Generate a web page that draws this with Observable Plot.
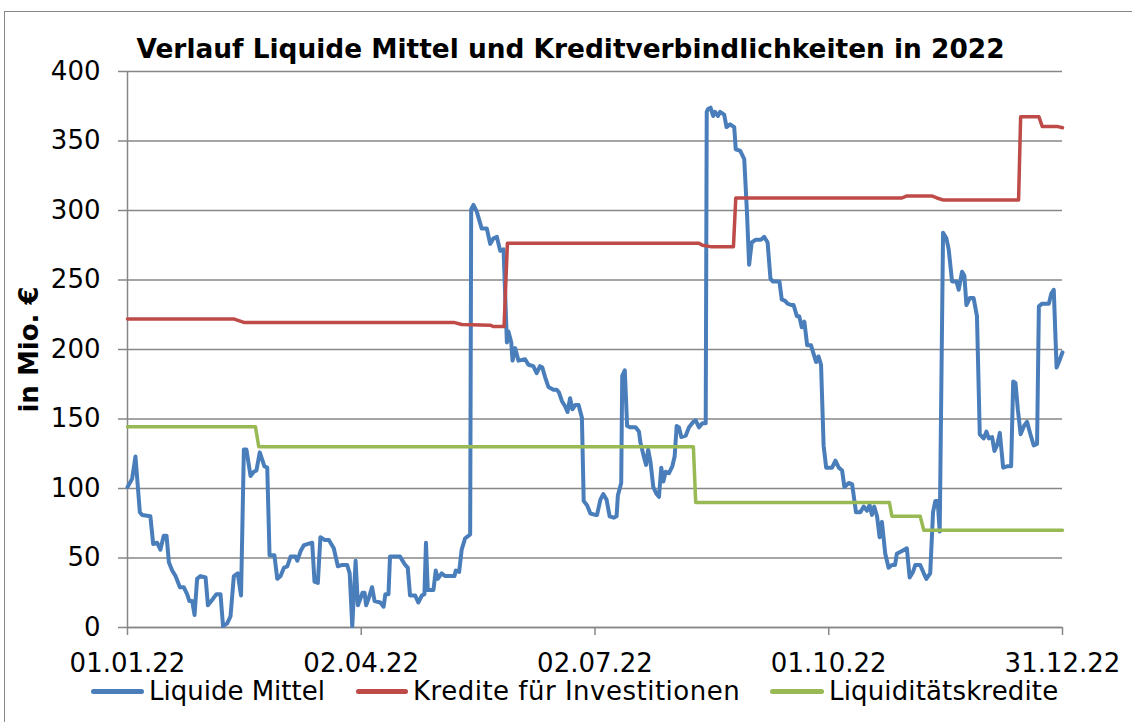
<!DOCTYPE html>
<html><head><meta charset="utf-8">
<script src="https://cdn.jsdelivr.net/npm/d3@7"></script>
<script src="https://cdn.jsdelivr.net/npm/@observablehq/plot@0.6"></script>
<style>
body{margin:0;background:#fff;font-family:"DejaVu Sans",Verdana,sans-serif;}
#wrap{position:relative;width:1132px;height:722px;overflow:hidden;}
#frame{position:absolute;left:4px;top:11px;width:1200px;height:800px;border-top:1.5px solid #878787;border-left:1.5px solid #878787;}
#title{position:absolute;left:0;top:36px;width:1141px;text-align:center;font-weight:bold;font-size:26.4px;line-height:26px;color:#000;}
#chart{position:absolute;left:0;top:60px;}
.lg{position:absolute;top:678px;font-size:26px;line-height:26px;color:#000;white-space:nowrap;}
.sw{position:absolute;top:689px;height:5px;border-radius:3px;}
</style></head>
<body>
<div id="wrap">
  <div id="frame"></div>
  <div id="title">Verlauf Liquide Mittel und Kreditverbindlichkeiten in 2022</div>
  <div id="chart"></div>
  <div id="legend"></div>
</div>
<script>
// Series names and colours
const seriesNames = ["Liquide Mittel", "Kredite für Investitionen", "Liquiditätskredite"];
const seriesColors = ["#4A7EBB", "#BE4B48", "#98B954"];

// x positions: day of year 2022 (0 = 01.01.22)
const liquideDays = [0,1.8,3.1,4.8,5.7,8.9,10,11.5,12.8,14.1,15.2,16.1,17.4,18.7,20.4,21.9,23.2,24.1,25.2,26.1,27.1,28.4,30.4,31.3,33,34.6,36.2,37.2,38.8,40.1,41.4,42.9,44.2,45.3,46.3,47.9,49.2,50.2,51.5,52.4,53.3,54.4,55.3,57.2,58.3,59.6,60.9,62.2,63.5,65.4,66.1,67.4,68.6,70,71.9,72.8,74.1,75.1,76.7,78.4,80.3,81.9,83.6,85.5,86.5,87.5,88.8,89.7,91.5,92.3,92.9,93.9,95.2,96.2,98.4,99.7,100.4,101.6,102.2,106.1,108.1,109.1,110,112,113.2,114.6,115.6,116.2,116.9,119.1,120,120.8,122.3,123.6,127.3,127.8,129.1,130.1,131.4,133.4,133.8,134.7,136,137.9,139.9,141.2,142.5,143.8,145.1,146.4,147.7,148.3,149.4,149.9,150.9,152.2,154.8,156.1,158,159.3,160.6,161.5,162.6,163.9,165.8,167.1,168,169.1,170.4,171.3,172.3,173.2,174.3,175.6,176.9,177.6,178.9,180.2,182.1,182.8,184.1,185.2,186.5,187.7,189.3,190.4,190.9,192.2,192.6,193.6,194.5,195.8,197.8,199.1,199.7,201,201.9,202.7,203.6,204.7,206,206.9,207.8,208.6,209.5,210.8,212.1,213,213.8,214.7,215.6,217.3,218.6,220.3,221.2,222.5,223.8,225.1,225.5,226,227,228,228.7,229.9,230.7,232.3,233.2,234.6,236.2,236.8,238.5,240.1,241.1,242,243,244.6,246.6,247.9,249.2,250.3,251.2,253.8,254.7,256,257,258.3,259.3,260.6,261.5,262.5,263.5,264.6,266.1,267.4,268.1,269,270,271,272,274.3,275.6,276.9,278.2,279.1,280.8,282.1,283.6,285.3,286.6,287.9,288.9,289.8,290.7,291.8,292.8,293.7,295,296.3,297.6,298.8,299.5,301.5,303.4,304.5,305.8,306.7,308.6,310,311,312.5,313.6,314.5,315.4,316.2,317.5,318.8,319.7,321,322.7,323.6,324.9,325.8,326.6,327.9,329.4,330.7,331.8,333.3,334.4,335.3,336.6,337.5,338.5,339.6,340.9,342.4,344,344.8,345.7,346.6,347.7,349,350.2,351.5,352.8,354.1,354.8,356.1,358.7,359.6,360.6,361.7,362.6,364];
const liquideValues = [101,107,123,83,81,80,60,61,56,66,66,47,41,37,29,29,24,19,19,9,35,37,36,16,20,24,24,1,3,8,37,39,23,128,128,109,112,113,126,121,116,115,52,52,35,37,43,44,51,51,48,55,59,60,61,33,32,65,63,63,57,44,45,45,39,1,48,16,25,25,16,21,29,19,18,15,24,24,51,51,45,43,23,23,18,23,24,61,27,27,41,35,39,37,37,41,40,56,64,67,301,304,299,287,287,276,280,281,271,272,205,213,205,192,201,192,193,189,188,183,188,187,180,173,171,171,169,163,159,155,165,157,160,160,151,91,88,82,81,81,92,96,92,80,79,80,95,104,181,185,145,144,144,141,133,123,117,128,119,101,96,94,115,105,112,111,116,123,145,144,137,138,144,148,149,144,147,147,371,373,374,368,371,368,371,369,360,362,360,344,343,337,301,261,277,279,279,281,277,251,249,249,236,235,233,232,232,224,224,216,220,203,203,195,191,195,189,131,115,115,120,115,113,101,104,103,83,83,87,84,88,81,87,80,65,76,53,43,45,45,53,55,57,36,40,45,45,39,35,39,83,91,91,69,284,280,272,249,249,243,256,253,232,237,237,224,139,136,141,136,137,127,131,140,115,116,116,177,176,157,139,145,148,139,131,132,231,233,233,240,243,187,191,198];

const krediteDays = [0,41.3,45.3,127,130.1,141.2,142.5,146.6,147.9,222.5,223.8,227,235.9,236.8,301.5,303.4,313.1,315.1,317.7,346.9,347.7,354.8,356.1,361.9,364];
const krediteValues = [222,222,219.5,219.5,218,217.5,216.5,216.5,276.5,276.5,275,274,274,309,309,310.5,310.5,309,307.5,307.5,367.5,367.5,360.5,360.5,359.5];

const liquiKrDays = [0,49.8,51.1,220.3,221.2,296.6,297.6,308.6,310,364];
const liquiKrValues = [144.5,144.5,130,130,90,90,80,80,70,70];

// Axis ticks
const xTickLabels = ["2022-01-01","2022-04-02","2022-07-02","2022-10-01","2022-12-31"];
const yTicks = [0,50,100,150,200,250,300,350,400];
const yLabel = "in Mio. €";

const base = Date.UTC(2022,0,1);
const toDate = d => new Date(base + d * 864e5);
const mk = (days, vals) => days.map((d,i) => ({date: toDate(d), value: vals[i]}));
const s1 = mk(liquideDays, liquideValues);
const s2 = mk(krediteDays, krediteValues);
const s3 = mk(liquiKrDays, liquiKrValues);
const xTicks = xTickLabels.map(s => new Date(s + "T00:00:00Z"));
const gray = "#878787";

const plot = Plot.plot({
  width: 1132, height: 620,
  marginTop: 11, marginBottom: 53, marginLeft: 127, marginRight: 70,
  style: {fontFamily: "DejaVu Sans, Verdana, sans-serif", fontSize: "26px", color: "#000", background: "transparent", overflow: "visible"},
  x: {type: "utc", domain: [toDate(0), toDate(364)]},
  y: {domain: [0, 400]},
  marks: [
    Plot.gridY({ticks: yTicks, stroke: gray, strokeOpacity: 1, strokeWidth: 1.5}),
    Plot.axisY({ticks: yTicks, tickSize: 9, tickPadding: 18, stroke: gray, strokeWidth: 1.5, label: null, fontSize: 26}),
    Plot.axisX({ticks: xTicks, tickSize: 8, tickPadding: 18, tickFormat: d3.utcFormat("%d.%m.%y"), stroke: gray, strokeWidth: 1.5, label: null, fontSize: 26}),
    Plot.ruleX([toDate(0)], {stroke: gray, strokeWidth: 1.5}),
    Plot.ruleY([0], {stroke: gray, strokeWidth: 1.5}),
    Plot.line(s1, {x: "date", y: "value", stroke: seriesColors[0], strokeWidth: 4}),
    Plot.line(s2, {x: "date", y: "value", stroke: seriesColors[1], strokeWidth: 3.5}),
    Plot.line(s3, {x: "date", y: "value", stroke: seriesColors[2], strokeWidth: 3.5}),
    Plot.text([yLabel], {frameAnchor: "left", rotate: -90, dx: -98, textAnchor: "middle", fontWeight: "bold", fontSize: 26, fill: "#000"})
  ]
});
document.getElementById("chart").appendChild(plot);

// Legend
const lg = document.getElementById("legend");
const swLeft = [91, 356, 770], swWidth = [53, 52, 54], txtLeft = [149, 413, 829], txtSpacing = [0, 0.5, 0.15];
seriesNames.forEach((n, i) => {
  const sw = document.createElement("div");
  sw.className = "sw";
  sw.style.left = swLeft[i] + "px"; sw.style.width = swWidth[i] + "px"; sw.style.background = seriesColors[i];
  lg.appendChild(sw);
  const t = document.createElement("div");
  t.className = "lg"; t.style.left = txtLeft[i] + "px"; t.style.letterSpacing = txtSpacing[i] + "px"; t.textContent = n;
  lg.appendChild(t);
});
</script>
</body></html>
